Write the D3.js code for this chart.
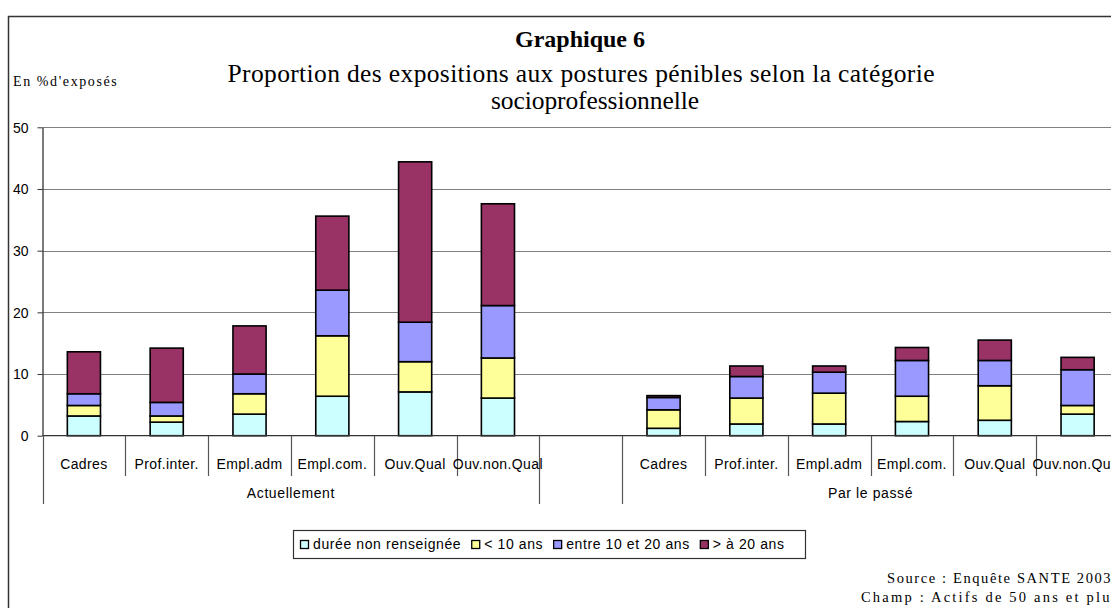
<!DOCTYPE html>
<html>
<head>
<meta charset="utf-8">
<script src="https://cdn.jsdelivr.net/npm/d3@7"></script>
<style>
  body { margin: 0; background: #fff; }
  svg { display: block; }
</style>
</head>
<body>
<div id="chart"></div>
<script>
// categories and groups
var categories = ["Cadres", "Prof.inter.", "Empl.adm", "Empl.com.", "Ouv.Qual", "Ouv.non.Qual"];
var groups = ["Actuellement", "Par le passé"];
var seriesNames = ["durée non renseignée", "< 10 ans", "entre 10 et 20 ans", "> à 20 ans"];
var seriesColors = ["#ccffff", "#ffff99", "#9999ff", "#993366"];

// values (% of exposed people)
var nonRenseigneeAct = [3.2, 2.2, 3.5, 6.4, 7.1, 6.1];
var moins10Act       = [1.7, 1.0, 3.3, 9.8, 4.9, 6.5];
var entre10et20Act   = [1.9, 2.2, 3.2, 7.4, 6.4, 8.5];
var plus20Act        = [6.8, 8.8, 7.8, 12.0, 26.0, 16.5];

var nonRenseigneePas = [1.2, 1.9, 1.9, 2.3, 2.5, 3.5];
var moins10Pas       = [3.0, 4.2, 5.0, 4.1, 5.6, 1.4];
var entre10et20Pas   = [2.0, 3.5, 3.4, 5.8, 4.1, 5.8];
var plus20Pas        = [0.3, 1.7, 1.0, 2.1, 3.3, 2.0];

var yTicks = [0, 10, 20, 30, 40, 50];

var W = 1111, H = 608;
var svg = d3.select("#chart").append("svg").attr("width", W).attr("height", H);

// outer frame (runs off the right and bottom edges)
svg.append("rect")
  .attr("x", 8.5).attr("y", 16.5).attr("width", W + 20).attr("height", H + 20)
  .attr("fill", "none").attr("stroke", "#333").attr("stroke-width", 1.5);

// rows: one per bar
var rows = [];
categories.forEach(function(c, i) {
  rows.push({key: "A" + i, cat: c, vals: [nonRenseigneeAct[i], moins10Act[i], entre10et20Act[i], plus20Act[i]]});
});
rows.push({key: "gap", cat: "", vals: null});
categories.forEach(function(c, i) {
  rows.push({key: "P" + i, cat: c, vals: [nonRenseigneePas[i], moins10Pas[i], entre10et20Pas[i], plus20Pas[i]]});
});

var plotLeft = 42.5, plotRight = 1119, plotTop = 127.3, plotBottom = 435.7;

var slot = d3.scaleBand().domain(rows.map(function(d) { return d.key; })).range([plotLeft, plotRight]);
var x = d3.scaleBand().domain(slot.domain()).range([plotLeft, plotRight]).paddingInner(0.6).paddingOuter(0.3);
var y = d3.scaleLinear().domain([0, 50]).range([plotBottom, plotTop]);

// gridlines
svg.append("g").selectAll("line").data(yTicks.filter(function(t) { return t > 0; })).enter()
  .append("line")
  .attr("x1", plotLeft).attr("x2", plotRight)
  .attr("y1", function(d) { return Math.round(y(d)) + 0.5; })
  .attr("y2", function(d) { return Math.round(y(d)) + 0.5; })
  .attr("stroke", "#808080").attr("stroke-width", 1.2);

// y axis
var yAxis = svg.append("g")
  .attr("transform", "translate(" + plotLeft + ",0)")
  .call(d3.axisLeft(y).tickValues(yTicks).tickSize(5).tickPadding(9).tickSizeOuter(0));
yAxis.select(".domain").attr("stroke", "#333").attr("stroke-width", 1.3);
yAxis.selectAll(".tick line").attr("stroke", "#333");
yAxis.selectAll("text")
  .attr("font-family", "Liberation Sans, Arial, sans-serif").attr("font-size", "14px")
  .attr("fill", "#000").attr("dy", "0.35em");

// stacked bars
var stacked = rows.filter(function(d) { return d.vals; });
var barG = svg.append("g");
stacked.forEach(function(r) {
  var acc = 0;
  r.vals.forEach(function(v, s) {
    barG.append("rect")
      .attr("x", x(r.key))
      .attr("width", x.bandwidth())
      .attr("y", y(acc + v))
      .attr("height", y(acc) - y(acc + v))
      .attr("fill", seriesColors[s])
      .attr("stroke", "#000").attr("stroke-width", 1.6);
    acc += v;
  });
});

// x axis line
svg.append("line")
  .attr("x1", plotLeft).attr("x2", plotRight)
  .attr("y1", plotBottom).attr("y2", plotBottom)
  .attr("stroke", "#333").attr("stroke-width", 1.3);

// category dividers
var keys = slot.domain();
var divG = svg.append("g").attr("stroke", "#555").attr("stroke-width", 1.2);
keys.forEach(function(k, i) {
  var xx = Math.round(slot(k)) + 0.5;
  var longTick = (i === 0 || k === "gap" || keys[i - 1] === "gap");
  divG.append("line")
    .attr("x1", xx).attr("x2", xx)
    .attr("y1", plotBottom).attr("y2", longTick ? 504 : 476);
});

// category labels
svg.append("g").selectAll("text").data(rows.filter(function(d) { return d.cat; })).enter()
  .append("text")
  .attr("x", function(d) { return slot(d.key) + slot.bandwidth() / 2; })
  .attr("y", 469)
  .attr("text-anchor", "middle")
  .attr("font-family", "Liberation Sans, Arial, sans-serif")
  .attr("font-size", "14px").attr("letter-spacing", "0.4px")
  .text(function(d) { return d.cat; });

// group labels
var groupSpans = [["A0", "A5"], ["P0", "P5"]];
svg.append("g").selectAll("text").data(groups).enter()
  .append("text")
  .attr("x", function(d, i) {
    var a = slot(groupSpans[i][0]);
    var b = slot(groupSpans[i][1]) + slot.bandwidth();
    return (a + b) / 2;
  })
  .attr("y", 498)
  .attr("text-anchor", "middle")
  .attr("font-family", "Liberation Sans, Arial, sans-serif")
  .attr("font-size", "14px").attr("letter-spacing", "0.6px")
  .text(function(d) { return d; });

// titles
var serif = "Liberation Serif, Times New Roman, serif";
svg.append("text").attr("x", 580).attr("y", 47).attr("text-anchor", "middle")
  .attr("font-family", serif).attr("font-weight", "bold").attr("font-size", "24px")
  .text("Graphique 6");
svg.append("text").attr("x", 581).attr("y", 82).attr("text-anchor", "middle")
  .attr("font-family", serif).attr("font-size", "25.5px")
  .attr("textLength", 707).attr("lengthAdjust", "spacing")
  .text("Proportion des expositions aux postures pénibles selon la catégorie");
svg.append("text").attr("x", 595).attr("y", 109).attr("text-anchor", "middle")
  .attr("font-family", serif).attr("font-size", "25.5px")
  .attr("textLength", 208).attr("lengthAdjust", "spacing")
  .text("socioprofessionnelle");
svg.append("text").attr("x", 13).attr("y", 86)
  .attr("font-family", serif).attr("font-size", "14px").attr("letter-spacing", "1.6px")
  .text("En %d'exposés");

// legend
var legend = svg.append("g");
legend.append("rect")
  .attr("x", 293.5).attr("y", 530.5).attr("width", 512).attr("height", 28)
  .attr("fill", "#fff").attr("stroke", "#333").attr("stroke-width", 1.2);
var lx = 300;
seriesNames.forEach(function(name, i) {
  legend.append("rect")
    .attr("x", lx + 0.5).attr("y", 540.5).attr("width", 8).attr("height", 8)
    .attr("fill", seriesColors[i]).attr("stroke", "#000").attr("stroke-width", 1.3);
  var t = legend.append("text")
    .attr("x", lx + 13).attr("y", 549)
    .attr("font-family", "Liberation Sans, Arial, sans-serif")
    .attr("font-size", "14px").attr("letter-spacing", "0.6px")
    .text(name);
  lx = lx + 13 + t.node().getComputedTextLength() + 10;
});

// source notes
svg.append("text").attr("x", 887).attr("y", 583)
  .attr("font-family", serif).attr("font-size", "14.5px").attr("letter-spacing", "1.6px")
  .text("Source : Enquête SANTE 2003");
svg.append("text").attr("x", 861).attr("y", 602)
  .attr("font-family", serif).attr("font-size", "14.5px").attr("letter-spacing", "2.2px")
  .text("Champ : Actifs de 50 ans et plus");
</script>
</body>
</html>
